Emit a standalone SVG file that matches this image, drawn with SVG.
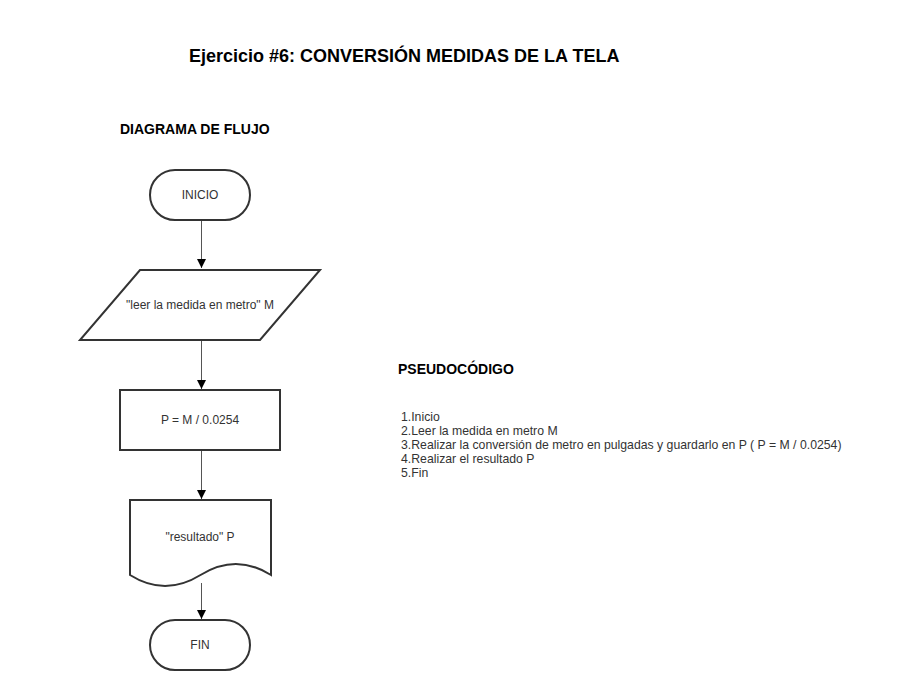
<svg xmlns="http://www.w3.org/2000/svg" width="908" height="690" viewBox="0 0 908 690">
<style>
  .shape { fill: #ffffff; stroke: #333333; stroke-width: 2; }
  .lbl { font-family: "Liberation Sans", Arial, sans-serif; font-size: 12px; fill: #333333; text-anchor: middle; dominant-baseline: central; }
  .hdr { font-family: "Liberation Sans", Arial, sans-serif; font-weight: bold; fill: #000000; }
  .code { font-family: "Liberation Sans", Arial, sans-serif; font-size: 12.25px; fill: #333333; }
  .conn { stroke: #555555; stroke-width: 1; fill: none; marker-end: url(#arrow); }
</style>
<defs>
  <marker id="arrow" markerWidth="10" markerHeight="10" refX="9" refY="5" orient="auto" markerUnits="userSpaceOnUse">
    <path d="M0,0.5 L9,5 L0,9.5 Z" fill="#000000"/>
  </marker>
</defs>
<rect width="908" height="690" fill="#ffffff"/>

<text class="hdr" x="189" y="62" font-size="18">Ejercicio #6: CONVERSIÓN MEDIDAS DE LA TELA</text>
<text class="hdr" x="120" y="134" font-size="14">DIAGRAMA DE FLUJO</text>
<text class="hdr" x="398" y="374" font-size="14">PSEUDOCÓDIGO</text>

<g id="pseudocode">
  <text class="code" x="401" y="421">1.Inicio</text>
  <text class="code" x="401" y="435">2.Leer la medida en metro M</text>
  <text class="code" x="401" y="449">3.Realizar la conversión de metro en pulgadas y guardarlo en P ( P = M / 0.0254)</text>
  <text class="code" x="401" y="463">4.Realizar el resultado P</text>
  <text class="code" x="401" y="477">5.Fin</text>
</g>

<g id="connectors">
  <line class="conn" x1="201.5" y1="220" x2="201.5" y2="268"/>
  <line class="conn" x1="201.5" y1="340" x2="201.5" y2="389"/>
  <line class="conn" x1="201.5" y1="450" x2="201.5" y2="499"/>
  <line class="conn" x1="201.5" y1="583" x2="201.5" y2="619"/>
</g>

<g id="inicio">
  <rect class="shape" x="150" y="170" width="100" height="50" rx="25" ry="25"/>
  <text class="lbl" x="200" y="195">INICIO</text>
</g>

<g id="leer">
  <polygon class="shape" points="140,270 320,270 260,340 80,340"/>
  <text class="lbl" x="200" y="305">"leer la medida en metro" M</text>
</g>

<g id="proceso">
  <rect class="shape" x="120" y="390" width="160" height="60"/>
  <text class="lbl" x="200" y="420">P = M / 0.0254</text>
</g>

<g id="resultado">
  <path class="shape" d="M130,500 H271 V575 Q236,553 200.5,575 Q165,597 130,575 Z"/>
  <text class="lbl" x="200" y="537">"resultado" P</text>
</g>

<g id="fin">
  <rect class="shape" x="150" y="620" width="100" height="50" rx="25" ry="25"/>
  <text class="lbl" x="200" y="645">FIN</text>
</g>
</svg>
